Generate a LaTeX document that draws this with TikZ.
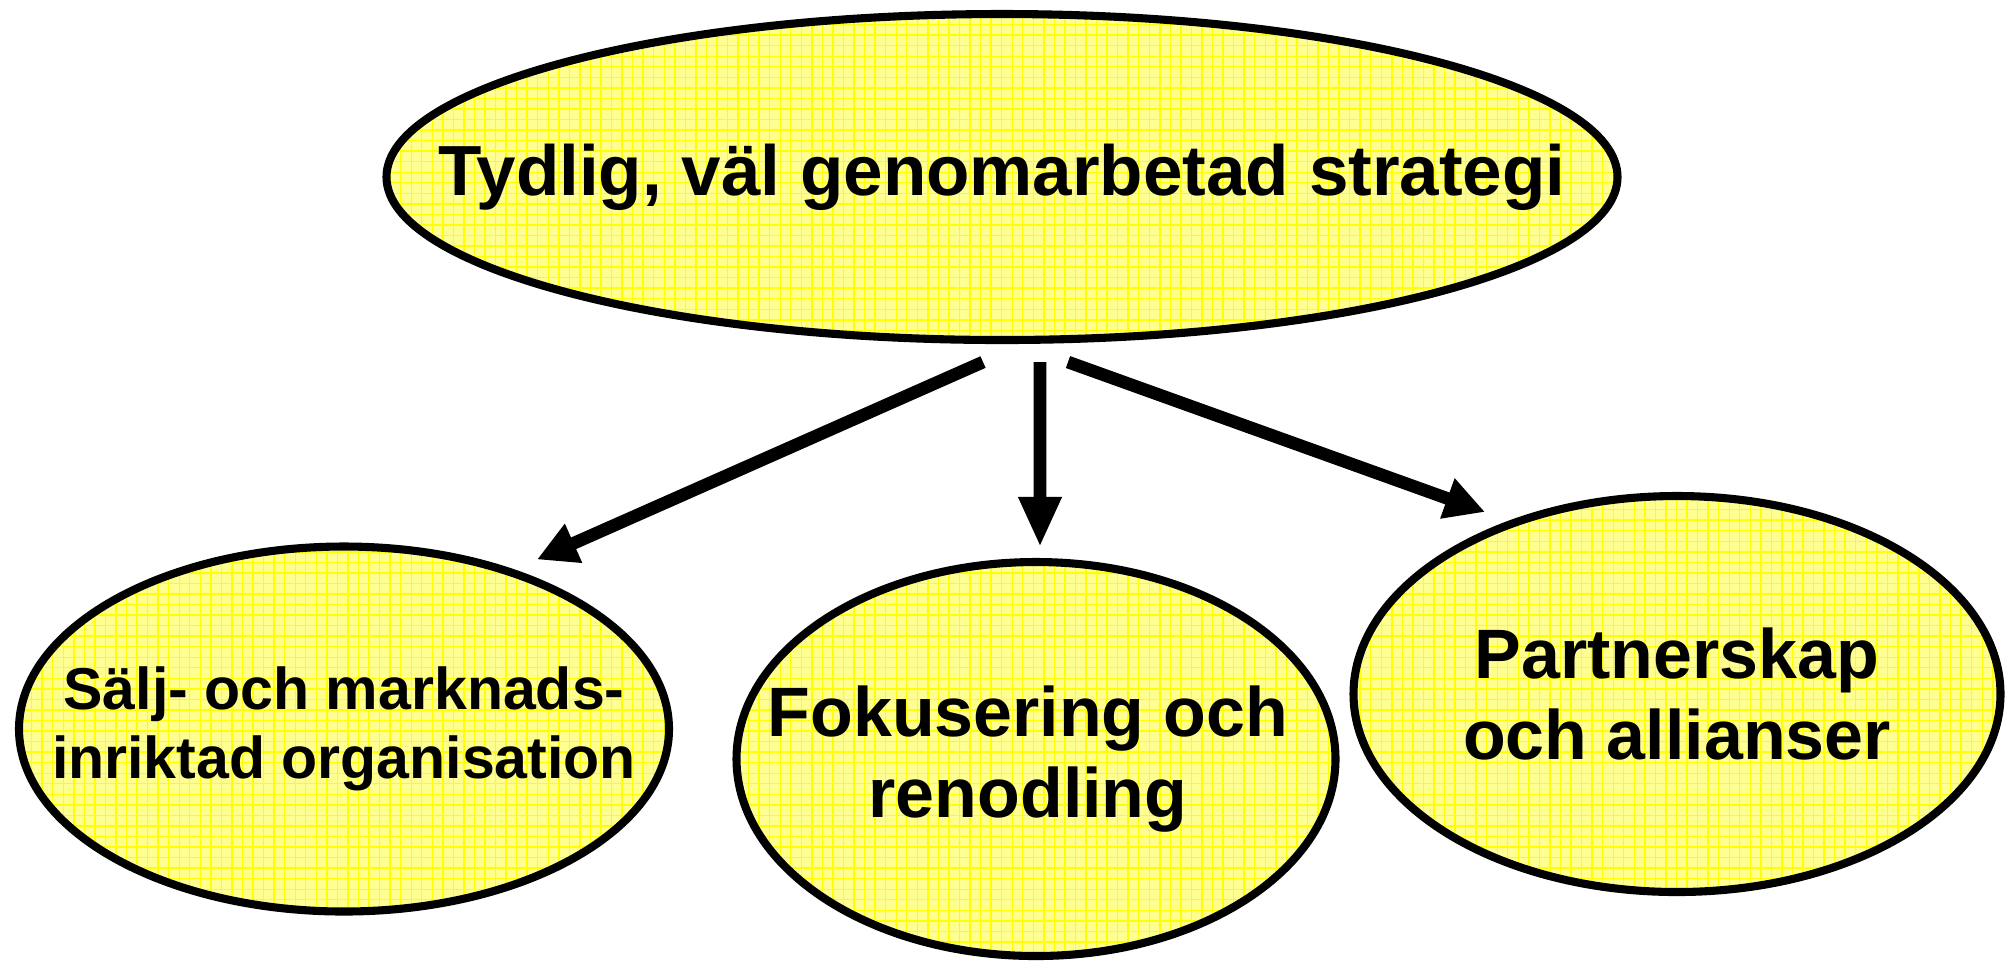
\documentclass[tikz,border=0pt]{standalone}
\usepackage{xcolor}
\usepackage{tikz}
\usepackage{fontspec}
\setmainfont{Liberation Sans}
\usetikzlibrary{calc,shapes.geometric,patterns,arrows.meta}
\definecolor{boxfill}{RGB}{255,255,145}
\definecolor{gridline}{RGB}{255,255,0}

\begin{document}
\begin{tikzpicture}
\tikzset{
    bubble/.style={ellipse, draw=black, line width=2.3pt, inner sep=0pt,
        preaction={fill=boxfill}, pattern=grid, pattern color=gridline},
    bigtext/.style={align=center, font=\bfseries\fontsize{20.2}{23}\selectfont},
    midtext/.style={align=center, font=\bfseries\fontsize{19.9}{23}\selectfont},
    smalltext/.style={align=center, font=\bfseries\fontsize{16.8}{19.8}\selectfont},
    flow/.style={line width=3.6pt, -{Triangle[length=0.40cm,width=0.40cm]}}
}
\useasboundingbox (0,0) rectangle (20.15,-9.63);

% Ellipses
\node[bubble, minimum width=12.31cm, minimum height=3.26cm,
    label={[bigtext]center:{Tydlig, väl genomarbetad strategi}}] (strategi) at (10.02,-1.77){};
\node[bubble, minimum width=6.50cm, minimum height=3.65cm,
    label={[smalltext]center:{Sälj- och marknads-\\inriktad organisation}}] (salj) at (3.44,-7.29){};
\node[bubble, minimum width=5.99cm, minimum height=3.94cm,
    label={[midtext,xshift=-0.08cm]center:{Fokusering och\\renodling}}] (fokus) at (10.36,-7.59){};
\node[bubble, minimum width=6.47cm, minimum height=3.96cm,
    label={[midtext]center:{Partnerskap\\och allianser}}] (partner) at (16.77,-6.94){};

% Arrows
\draw[flow] ([xshift=-0.19cm,yshift=-0.18cm]strategi.south) -- ([xshift=1.93cm,yshift=-0.17cm]salj.north);
\draw[flow, -{Triangle[length=0.50cm,width=0.40cm]}] ([xshift=0.38cm,yshift=-0.18cm]strategi.south) -- ([xshift=0.04cm,yshift=0.11cm]fokus.north);
\draw[flow] ([xshift=0.66cm,yshift=-0.18cm]strategi.south) -- ([xshift=-1.92cm,yshift=-0.20cm]partner.north);

\end{tikzpicture}
\end{document}
